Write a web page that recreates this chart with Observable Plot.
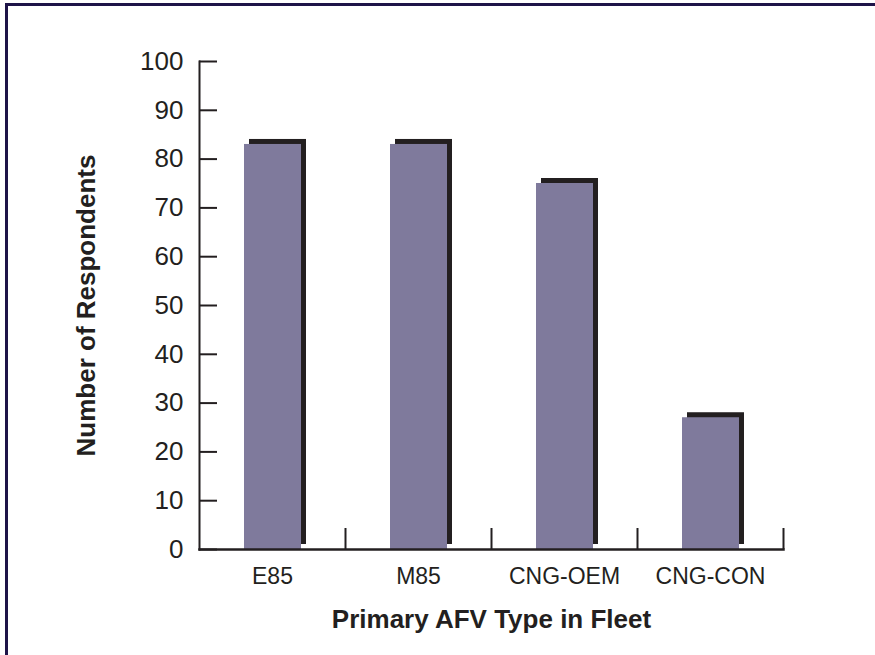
<!DOCTYPE html>
<html>
<head>
<meta charset="utf-8">
<script src="https://cdn.jsdelivr.net/npm/d3@7"></script>
<script src="https://cdn.jsdelivr.net/npm/@observablehq/plot@0.6"></script>
<style>
  html, body { margin: 0; padding: 0; background: #ffffff; overflow: hidden; }
  #wrap { position: relative; width: 875px; height: 655px; }
  #border { position: absolute; left: 5px; top: 3px; width: 960px; height: 760px;
            border-top: 3px solid #1e1448; border-left: 3px solid #1e1448; box-sizing: border-box; }
  #chart { position: absolute; left: 0; top: 0; }
</style>
</head>
<body>
<div id="wrap"><div id="border"></div><div id="chart"></div></div>
<script>
const categories = ["E85", "M85", "CNG-OEM", "CNG-CON"];
const respondents = [83, 83, 75, 27];
const yTicks = [0, 10, 20, 30, 40, 50, 60, 70, 80, 90, 100];
const yTitle = "Number of Respondents";
const xTitle = "Primary AFV Type in Fleet";

const data = categories.map((c, i) => ({type: c, value: respondents[i]}));

const W = 875, H = 655;
const mL = 199, mR = 92, mT = 61, mB = 106;
const bw = (W - mL - mR) / categories.length;
const ink = "#231f20";

const chart = Plot.plot({
  width: W,
  height: H,
  marginLeft: mL,
  marginRight: mR,
  marginTop: mT,
  marginBottom: mB,
  style: {fontFamily: "'Liberation Sans', Arial, sans-serif", color: ink, background: "transparent"},
  x: {domain: categories, padding: 0},
  y: {domain: [0, 100]},
  marks: [
    Plot.barY(data, {x: "type", y: "value", fill: ink, dx: 5, dy: -5, insetLeft: 45, insetRight: 44}),
    Plot.barY(data, {x: "type", y: "value", fill: "#7f7a9c", insetLeft: 45, insetRight: 44}),
    Plot.ruleY(yTicks, {stroke: ink, strokeWidth: 2, insetRight: (W - mL - mR) - 18}),
    Plot.ruleX(categories, {x: d => d, dx: bw / 2, y1: 0, y2: 4.3, stroke: ink, strokeWidth: 2}),
    Plot.frame({anchor: "left", stroke: ink, strokeWidth: 2}),
    Plot.frame({anchor: "bottom", stroke: ink, strokeWidth: 2.5}),
    Plot.axisY({ticks: yTicks, tickSize: 0, tickPadding: 16, fontSize: 26, label: null}),
    Plot.axisX({tickSize: 0, tickPadding: 18, fontSize: 23, label: null}),
    Plot.text([yTitle], {frameAnchor: "left", rotate: -90, dx: -113, textAnchor: "middle", lineAnchor: "middle", fontSize: 26, fontWeight: "bold", fill: ink}),
    Plot.text([xTitle], {frameAnchor: "bottom", dy: 78, fontSize: 26, fontWeight: "bold", fill: ink})
  ]
});
document.getElementById("chart").appendChild(chart);
</script>
</body>
</html>
